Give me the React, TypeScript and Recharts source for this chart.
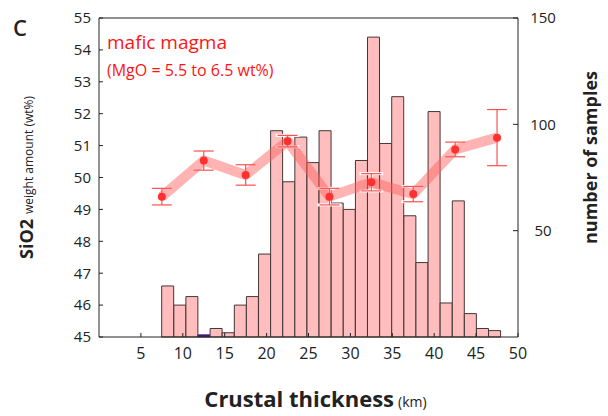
import { Bar, Cell, ComposedChart, ErrorBar, Line, XAxis, YAxis } from "recharts"

// histogram bins (centres, km) and sample counts
const binCenters = [
	8.2, 9.65, 11.09, 12.53, 13.98, 15.42, 16.87, 18.31, 19.76, 21.2, 22.65, 24.09, 25.54, 26.98,
	28.43, 29.87, 31.32, 32.76, 34.21, 35.65, 37.1, 38.54, 39.99, 41.43, 42.88, 44.32, 45.77, 47.21,
]
const sampleCounts = [
	24, 15, 19, 1, 4, 2, 15, 19, 39, 97, 73, 94, 82, 97, 63, 60, 83, 141, 91, 113, 57, 35, 106, 16,
	64, 11, 4, 3,
]

// mean SiO2 per 5 km thickness class
const thicknessClasses = [7.5, 12.5, 17.5, 22.5, 27.5, 32.5, 37.5, 42.5, 47.5]
const sio2Means = [49.4, 50.53, 50.08, 51.14, 49.4, 49.85, 49.48, 50.88, 51.25]
const sio2Errors = [0.26, 0.3, 0.32, 0.18, 0.26, 0.27, 0.24, 0.23, 0.88]

const xTicks = [5, 10, 15, 20, 25, 30, 35, 40, 45, 50]
const topTicks = [5, 10, 15, 20, 25, 30, 35, 40, 45]
const sio2Ticks = [45, 46, 47, 48, 49, 50, 51, 52, 53, 54, 55]
const countTicks = [50, 100, 150]

const histRows = binCenters.map((x, i) => ({ x, n: sampleCounts[i] }))
const sio2Rows = thicknessClasses.map((x, i) => ({ x, sio2: sio2Means[i], err: sio2Errors[i] }))

const font = "'Open Sans', sans-serif"
const ink = "#222"
const red = "#ff1414"

export default function App() {
	return (
		<div style={{ position: "absolute", left: 0, top: 0, width: 608, height: 416, fontFamily: font }}>
			<ComposedChart
				width={608}
				height={416}
				data={histRows}
				margin={{ top: 17, right: 40, bottom: 49, left: 39 }}
				barCategoryGap={0}
				barGap={0}
			>
				<XAxis
					dataKey="x"
					type="number"
					domain={[0, 50]}
					ticks={xTicks}
					interval={0}
					height={30}
					tickSize={-4}
					tickMargin={15}
					axisLine={{ stroke: ink }}
					tickLine={{ stroke: ink }}
					tick={{ fill: ink, fontSize: 16, fontFamily: font }}
					label={{
						content: ({ viewBox }: any) => (
							<text
								x={viewBox.x + viewBox.width / 2 + 7}
								y={407}
								textAnchor="middle"
								fill={ink}
								fontFamily={font}
							>
								<tspan fontSize={22} fontWeight="bold">
									Crustal thickness
								</tspan>
								<tspan fontSize={14} dx={4}>
									(km)
								</tspan>
							</text>
						),
					}}
				/>
				<XAxis
					xAxisId="top"
					dataKey="x"
					type="number"
					orientation="top"
					domain={[0, 50]}
					ticks={topTicks}
					interval={0}
					height={1}
					tickSize={-4}
					tick={false}
					axisLine={{ stroke: ink }}
					tickLine={{ stroke: ink }}
				/>
				<YAxis
					yAxisId="left"
					type="number"
					domain={[45, 55]}
					ticks={sio2Ticks}
					interval={0}
					width={60}
					tickSize={-4}
					tickMargin={12}
					axisLine={{ stroke: ink }}
					tickLine={{ stroke: ink }}
					tick={{ fill: ink, fontSize: 15, fontFamily: font }}
					label={{
						content: ({ viewBox }: any) => {
							const x = viewBox.x - 6
							const y = viewBox.y + viewBox.height / 2
							return (
								<text
									x={x}
									y={y}
									transform={`rotate(-90, ${x}, ${y})`}
									textAnchor="middle"
									fill={ink}
									fontFamily={font}
								>
									<tspan fontSize={18} fontWeight="bold">
										SiO2
									</tspan>
									<tspan fontSize={12} dx={5}>
										weight amount (wt%)
									</tspan>
								</text>
							)
						},
					}}
				/>
				<YAxis
					yAxisId="right"
					orientation="right"
					type="number"
					domain={[0, 150]}
					ticks={countTicks}
					interval={0}
					width={50}
					tickSize={-5}
					tickMargin={30}
					axisLine={{ stroke: ink }}
					tickLine={{ stroke: ink }}
					tick={{ fill: ink, fontSize: 15, fontFamily: font, textAnchor: "middle" }}
					label={{
						content: ({ viewBox }: any) => {
							const x = viewBox.x + 79
							const y = viewBox.y + viewBox.height / 2 - 20
							return (
								<text
									x={x}
									y={y}
									transform={`rotate(-90, ${x}, ${y})`}
									textAnchor="middle"
									fill={ink}
									fontFamily={font}
									fontSize={18}
									fontWeight="bold"
								>
									number of samples
								</text>
							)
						},
					}}
				/>
				<Bar
					yAxisId="right"
					dataKey="n"
					fill="#ffbdbd"
					stroke="#463636"
					strokeWidth={1}
					isAnimationActive={false}
				>
					{histRows.map((row, i) => (
						<Cell
							key={row.x}
							fill={i === 3 ? "#3d2370" : "#ffbdbd"}
							stroke={i === 3 ? "#3d2370" : "#463636"}
						/>
					))}
				</Bar>
				<Line
					data={sio2Rows}
					xAxisId="top"
					yAxisId="left"
					dataKey="sio2"
					type="linear"
					stroke="#ff6060"
					strokeOpacity={0.48}
					strokeWidth={10}
					strokeLinejoin="round"
					dot={{ r: 4, fill: "#ff3030", stroke: "none", strokeOpacity: 1, fillOpacity: 1 }}
					isAnimationActive={false}
				>
					<ErrorBar dataKey="err" width={12} stroke="#ffffff" strokeWidth={3} />
					<ErrorBar dataKey="err" width={10} stroke="#ff5050" strokeWidth={1.2} />
				</Line>
			</ComposedChart>
			<svg
				width={608}
				height={416}
				style={{ position: "absolute", left: 0, top: 0, pointerEvents: "none" }}
			>
				<text x={13} y={36} fontSize={22} fontWeight={600} fill={ink} fontFamily={font}>
					C
				</text>
				<text x={107} y={49} fontSize={19} fill={red} fontFamily={font}>
					mafic magma
				</text>
				<text x={107} y={76} fontSize={16} fill={red} fontFamily={font}>
					(MgO = 5.5 to 6.5 wt%)
				</text>
			</svg>
		</div>
	)
}
